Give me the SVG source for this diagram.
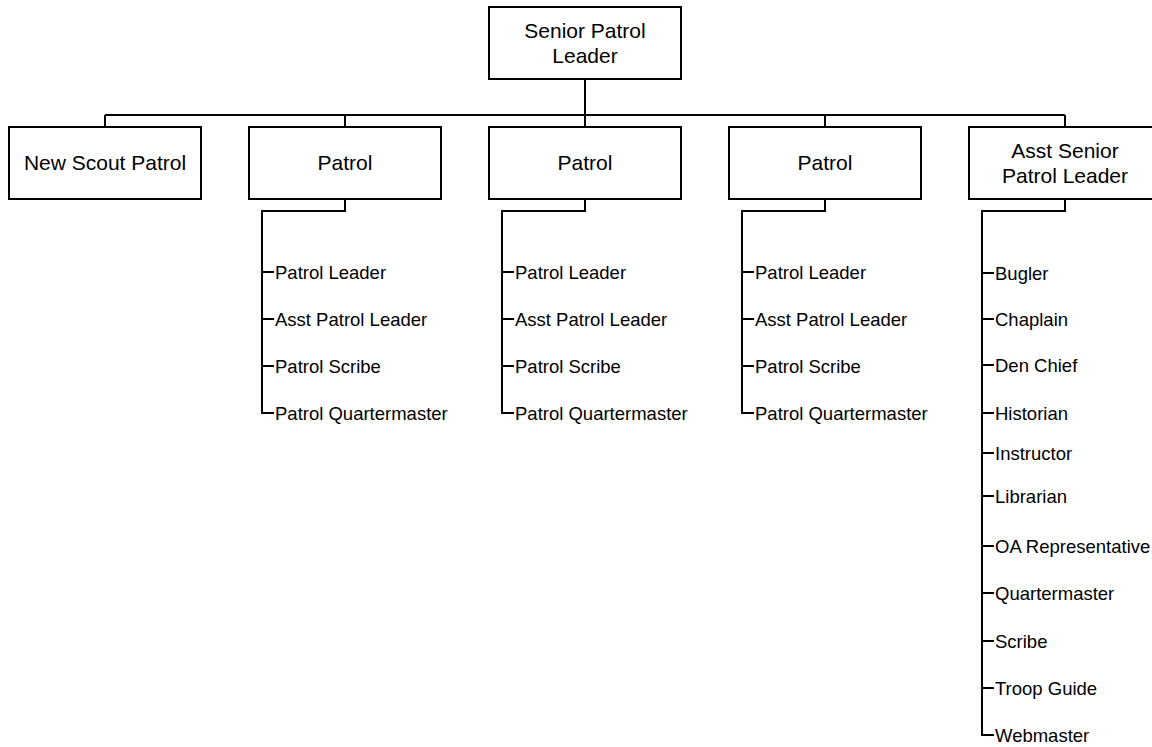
<svg xmlns="http://www.w3.org/2000/svg" width="1152" height="747" viewBox="0 0 1152 747">
<style>
.box{fill:#fff;stroke:#000;stroke-width:2}
.bt{font-family:"Liberation Sans",Arial,sans-serif;font-size:21px;fill:#000;text-anchor:middle}
.it{font-family:"Liberation Sans",Arial,sans-serif;font-size:18.5px;fill:#000}
.c{fill:none;stroke:#000;stroke-width:2}
</style>
<rect width="1152" height="747" fill="#fff"/>
<g id="connectors">
<path class="c" d="M585,79 V115 M105,115 H1065 M105,115 V127 M345,115 V127 M585,115 V127 M825,115 V127 M1065,115 V127"/>
<path class="c" d="M345,199 V211 H262 V413 H274 M262,272 H274 M262,319 H274 M262,366 H274"/>
<path class="c" d="M585,199 V211 H502 V413 H514 M502,272 H514 M502,319 H514 M502,366 H514"/>
<path class="c" d="M825,199 V211 H742 V413 H754 M742,272 H754 M742,319 H754 M742,366 H754"/>
<path class="c" d="M1065,199 V211 H982 V735 H994 M982,273 H994 M982,319 H994 M982,365 H994 M982,413 H994 M982,453 H994 M982,496 H994 M982,546 H994 M982,593 H994 M982,641 H994 M982,688 H994"/>
</g>
<g id="spl"><rect class="box" x="489" y="7" width="192" height="72"/><text class="bt" x="585" y="38">Senior Patrol</text><text class="bt" x="585" y="63">Leader</text></g>
<g id="newscout"><rect class="box" x="9" y="127" width="192" height="72"/><text class="bt" x="105" y="170">New Scout Patrol</text></g>
<g id="patrol1"><rect class="box" x="249" y="127" width="192" height="72"/><text class="bt" x="345" y="170">Patrol</text></g>
<g id="patrol2"><rect class="box" x="489" y="127" width="192" height="72"/><text class="bt" x="585" y="170">Patrol</text></g>
<g id="patrol3"><rect class="box" x="729" y="127" width="192" height="72"/><text class="bt" x="825" y="170">Patrol</text></g>
<g id="aspl"><rect class="box" x="969" y="127" width="192" height="72"/><text class="bt" x="1065" y="158">Asst Senior</text><text class="bt" x="1065" y="183">Patrol Leader</text></g>
<g id="patrol1-items">
<text class="it" x="275" y="279">Patrol Leader</text>
<text class="it" x="275" y="326">Asst Patrol Leader</text>
<text class="it" x="275" y="373">Patrol Scribe</text>
<text class="it" x="275" y="420">Patrol Quartermaster</text>
</g>
<g id="patrol2-items">
<text class="it" x="515" y="279">Patrol Leader</text>
<text class="it" x="515" y="326">Asst Patrol Leader</text>
<text class="it" x="515" y="373">Patrol Scribe</text>
<text class="it" x="515" y="420">Patrol Quartermaster</text>
</g>
<g id="patrol3-items">
<text class="it" x="755" y="279">Patrol Leader</text>
<text class="it" x="755" y="326">Asst Patrol Leader</text>
<text class="it" x="755" y="373">Patrol Scribe</text>
<text class="it" x="755" y="420">Patrol Quartermaster</text>
</g>
<g id="aspl-items">
<text class="it" x="995" y="280">Bugler</text>
<text class="it" x="995" y="326">Chaplain</text>
<text class="it" x="995" y="372">Den Chief</text>
<text class="it" x="995" y="420">Historian</text>
<text class="it" x="995" y="460">Instructor</text>
<text class="it" x="995" y="503">Librarian</text>
<text class="it" x="995" y="553">OA Representative</text>
<text class="it" x="995" y="600">Quartermaster</text>
<text class="it" x="995" y="648">Scribe</text>
<text class="it" x="995" y="695">Troop Guide</text>
<text class="it" x="995" y="742">Webmaster</text>
</g>
</svg>
